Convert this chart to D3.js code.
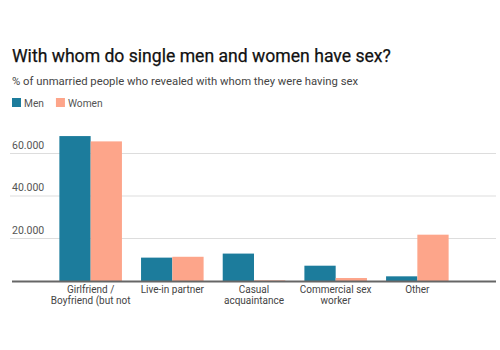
<!DOCTYPE html>
<html>
<head>
<meta charset="utf-8">
<script src="https://cdn.jsdelivr.net/npm/d3@7"></script>
<style>
  body { margin: 0; background: #fff; }
  svg { font-family: Roboto, "Open Sans", sans-serif; }
</style>
</head>
<body>
<div id="chart"></div>
<script>
const width = 500;
const height = 350;

// data
const categories = [
  ["Girlfriend /", "Boyfriend (but not"],
  ["Live-in partner"],
  ["Casual", "acquaintance"],
  ["Commercial sex", "worker"],
  ["Other"]
];
const series = ["Men", "Women"];
const menValues = [68.2, 11.0, 12.9, 7.2, 2.2];
const womenValues = [65.7, 11.4, 0.3, 1.4, 21.8];
const yTicks = [20, 40, 60];

const colors = {Men: "#1c7c9c", Women: "#fda58a"};

const svg = d3.select("#chart").append("svg")
  .attr("width", width)
  .attr("height", height);

// title + subtitle
svg.append("text")
  .attr("x", 12).attr("y", 62)
  .attr("font-size", "17.6px")
  .attr("font-weight", 400)
  .attr("fill", "#111")
  .attr("stroke", "#111")
  .attr("stroke-width", 0.25)
  .text("With whom do single men and women have sex?");

svg.append("text")
  .attr("x", 12).attr("y", 85)
  .attr("font-size", "11.3px")
  .attr("fill", "#444")
  .text("% of unmarried people who revealed with whom they were having sex");

// legend
const legend = svg.append("g").attr("transform", "translate(12,98)");
let lx = 0;
series.forEach(s => {
  legend.append("rect")
    .attr("x", lx).attr("y", 0)
    .attr("width", 9).attr("height", 9)
    .attr("fill", colors[s]);
  const t = legend.append("text")
    .attr("x", lx + 12).attr("y", 8.5)
    .attr("font-size", "10.2px")
    .attr("fill", "#555")
    .text(s);
  lx += 12 + t.node().getComputedTextLength() + 12;
});

// scales
const x0 = d3.scaleBand()
  .domain(d3.range(categories.length))
  .range([12, 496])
  .paddingInner(0.234)
  .paddingOuter(0.58);

const x1 = d3.scaleBand()
  .domain(series)
  .range([0, x0.bandwidth()]);

const y = d3.scaleLinear()
  .domain([0, 60])
  .range([281, 153.5]);

// gridlines + tick labels
const grid = svg.append("g");
yTicks.forEach(v => {
  grid.append("line")
    .attr("x1", 10).attr("x2", 496)
    .attr("y1", y(v)).attr("y2", y(v))
    .attr("stroke", "#ddd")
    .attr("stroke-width", 1);
  grid.append("text")
    .attr("x", 12).attr("y", y(v) - 5)
    .attr("font-size", "10.5px")
    .attr("fill", "#555")
    .text(d3.format(".3f")(v));
});

// bars
const rows = categories.map((c, i) => ({i, Men: menValues[i], Women: womenValues[i]}));

svg.append("g")
  .selectAll("g")
  .data(rows)
  .join("g")
  .attr("transform", d => `translate(${x0(d.i)},0)`)
  .selectAll("rect")
  .data(d => series.map(s => ({key: s, value: d[s]})))
  .join("rect")
  .attr("x", d => x1(d.key))
  .attr("width", x1.bandwidth())
  .attr("y", d => y(d.value))
  .attr("height", d => y(0) - y(d.value))
  .attr("fill", d => colors[d.key]);

// baseline
svg.append("line")
  .attr("x1", 12).attr("x2", 496)
  .attr("y1", y(0) + 0.5).attr("y2", y(0) + 0.5)
  .attr("stroke", "#666")
  .attr("stroke-width", 2);

// category labels
const labels = svg.append("g");
categories.forEach((lines, i) => {
  const t = labels.append("text")
    .attr("x", x0(i) + x0.bandwidth() / 2)
    .attr("y", 293)
    .attr("text-anchor", "middle")
    .attr("font-size", "10px")
    .attr("fill", "#444");
  lines.forEach((line, j) => {
    t.append("tspan")
      .attr("x", x0(i) + x0.bandwidth() / 2)
      .attr("dy", j === 0 ? 0 : 11.3)
      .text(line);
  });
});
</script>
</body>
</html>
